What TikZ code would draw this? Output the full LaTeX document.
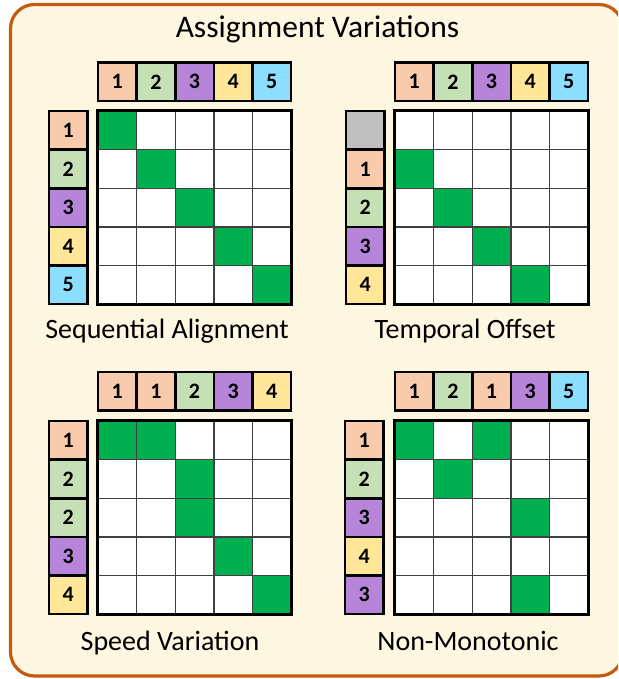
\documentclass[tikz,border=0pt]{standalone}
\usepackage{fontspec}
\setmainfont{Carlito}
\usepackage{xcolor}
\usetikzlibrary{positioning}
\definecolor{framebg}{HTML}{FDF6E1}
\definecolor{frameline}{HTML}{C55A11}
\definecolor{cA}{HTML}{F8CBAD}
\definecolor{cB}{HTML}{C5E0B4}
\definecolor{cC}{HTML}{B685DA}
\definecolor{cD}{HTML}{FFE699}
\definecolor{cE}{HTML}{8CDEFF}
\definecolor{cX}{HTML}{BFBFBF}
\definecolor{hit}{HTML}{00B050}

\begin{document}
\begin{tikzpicture}[
    x=1pt, y=-1pt,
    cell/.style={
        rectangle, draw=black!75, line width=1.4pt, fill=white,
        minimum width=38.6pt, minimum height=38.6pt, inner sep=0pt
    },
    match/.style={cell, fill=hit},
    hdr/.style={
        rectangle, draw=black, line width=2.6pt,
        minimum width=38.6pt, minimum height=38.6pt, inner sep=0pt,
        font=\fontsize{22}{22}\selectfont\bfseries
    },
    grid/.style={draw=black, line width=3pt},
    caption/.style={font=\fontsize{28}{28}\selectfont, anchor=base}
]
\useasboundingbox (0,0) rectangle (618,679);

% Frame and title
\begin{scope}
\clip (0,0) rectangle (618,679);
\draw[fill=framebg, draw=frameline, line width=3.2pt, rounded corners=24pt]
    (10.5,4.5) rectangle (623,676);
\end{scope}
\node[font=\fontsize{31.5}{31.5}\selectfont, anchor=base] (title) at (317.5,38)
    {Assignment Variations};

% Sequential Alignment (grid at 98,111)
\foreach \lab/\col [count=\i] in {1/cA,2/cB,3/cC,4/cD,5/cE}
    \node[hdr, fill=\col] (sa-c\i) at ({98+(\i-0.5)*38.6},{62.5+19.3}) {\lab};
\foreach \lab/\col [count=\i] in {1/cA,2/cB,3/cC,4/cD,5/cE}
    \node[hdr, fill=\col] (sa-r\i) at ({49+19.3},{111+(\i-0.5)*38.6}) {\lab};
\foreach \r in {1,...,5}
    \foreach \c in {1,...,5}
        \node[cell] (sa-\r-\c) at ({98+(\c-0.5)*38.6},{111+(\r-0.5)*38.6}) {};
\foreach \r/\c in {1/1,2/2,3/3,4/4,5/5}
    \node[match] at (sa-\r-\c) {};
\draw[grid] (sa-1-1.north west) rectangle (sa-5-5.south east);
\node[caption] (sa-name) at (167,338) {Sequential Alignment};

% Temporal Offset (grid at 395,111)
\foreach \lab/\col [count=\i] in {1/cA,2/cB,3/cC,4/cD,5/cE}
    \node[hdr, fill=\col] (to-c\i) at ({395+(\i-0.5)*38.6},{62.5+19.3}) {\lab};
\foreach \lab/\col [count=\i] in {{}/cX,1/cA,2/cB,3/cC,4/cD}
    \node[hdr, fill=\col] (to-r\i) at ({346+19.3},{111+(\i-0.5)*38.6}) {\lab};
\foreach \r in {1,...,5}
    \foreach \c in {1,...,5}
        \node[cell] (to-\r-\c) at ({395+(\c-0.5)*38.6},{111+(\r-0.5)*38.6}) {};
\foreach \r/\c in {2/1,3/2,4/3,5/4}
    \node[match] at (to-\r-\c) {};
\draw[grid] (to-1-1.north west) rectangle (to-5-5.south east);
\node[caption] (to-name) at (465,338) {Temporal Offset};

% Speed Variation (grid at 98,421)
\foreach \lab/\col [count=\i] in {1/cA,1/cA,2/cB,3/cC,4/cD}
    \node[hdr, fill=\col] (sv-c\i) at ({98+(\i-0.5)*38.6},{372+19.3}) {\lab};
\foreach \lab/\col [count=\i] in {1/cA,2/cB,2/cB,3/cC,4/cD}
    \node[hdr, fill=\col] (sv-r\i) at ({49+19.3},{421+(\i-0.5)*38.6}) {\lab};
\foreach \r in {1,...,5}
    \foreach \c in {1,...,5}
        \node[cell] (sv-\r-\c) at ({98+(\c-0.5)*38.6},{421+(\r-0.5)*38.6}) {};
\foreach \r/\c in {1/1,1/2,2/3,3/3,4/4,5/5}
    \node[match] at (sv-\r-\c) {};
\draw[grid] (sv-1-1.north west) rectangle (sv-5-5.south east);
\node[caption] (sv-name) at (170,650) {Speed Variation};

% Non-Monotonic (grid at 395,421)
\foreach \lab/\col [count=\i] in {1/cA,2/cB,1/cA,3/cC,5/cE}
    \node[hdr, fill=\col] (nm-c\i) at ({395+(\i-0.5)*38.6},{372+19.3}) {\lab};
\foreach \lab/\col [count=\i] in {1/cA,2/cB,3/cC,4/cD,3/cC}
    \node[hdr, fill=\col] (nm-r\i) at ({345+19.3},{421+(\i-0.5)*38.6}) {\lab};
\foreach \r in {1,...,5}
    \foreach \c in {1,...,5}
        \node[cell] (nm-\r-\c) at ({395+(\c-0.5)*38.6},{421+(\r-0.5)*38.6}) {};
\foreach \r/\c in {1/1,1/3,2/2,3/4,5/4}
    \node[match] at (nm-\r-\c) {};
\draw[grid] (nm-1-1.north west) rectangle (nm-5-5.south east);
\node[caption] (nm-name) at (468,650) {Non-Monotonic};

\end{tikzpicture}
\end{document}
